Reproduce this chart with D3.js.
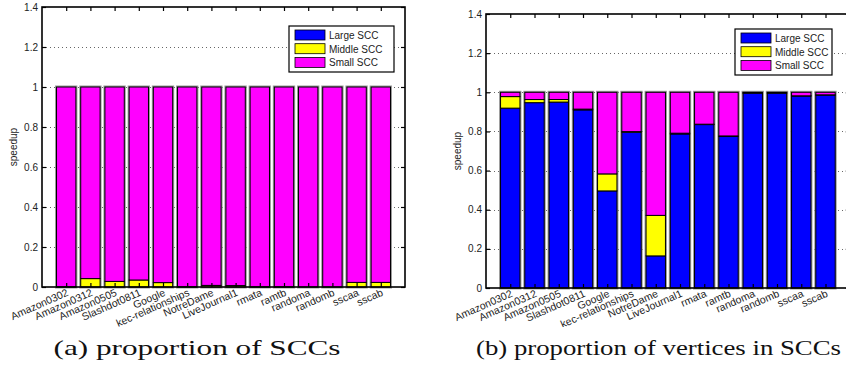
<!DOCTYPE html>
<html>
<head>
<meta charset="utf-8">
<script src="https://cdn.jsdelivr.net/npm/d3@7"></script>
<style>
  body { margin: 0; background: #fff; }
  svg { display: block; }
  text { font-family: "Liberation Sans", Arial, sans-serif; }
</style>
</head>
<body>
<div id="plot"></div>
<script>
// Width and height
const w = 846;
const h = 366;

// data
const datasets = ["Amazon0302", "Amazon0312", "Amazon0505", "Slashdot0811", "Google",
  "kec-relationships", "NotreDame", "LiveJournal1", "rmata", "ramtb", "randoma", "randomb",
  "sscaa", "sscab"];
const seriesNames = ["Large SCC", "Middle SCC", "Small SCC"];
const yTicks = [0, 0.2, 0.4, 0.6, 0.8, 1, 1.2, 1.4];

// (a) proportion of SCCs
const sccLarge  = [0, 0, 0, 0, 0, 0, 0, 0, 0, 0, 0, 0, 0, 0];
const sccMiddle = [0.001, 0.042, 0.028, 0.035, 0.022, 0.001, 0.008, 0.007, 0.001, 0.001, 0, 0, 0.023, 0.023];
const sccSmall  = [0.999, 0.958, 0.972, 0.965, 0.978, 0.999, 0.992, 0.993, 0.999, 0.999, 1, 1, 0.977, 0.977];

// (b) proportion of vertices in SCCs
const vertLarge  = [0.919, 0.947, 0.950, 0.910, 0.496, 0.796, 0.164, 0.787, 0.835, 0.774, 0.996, 0.996, 0.981, 0.986];
const vertMiddle = [0.059, 0.016, 0.013, 0.004, 0.087, 0.003, 0.207, 0.004, 0.002, 0.003, 0.001, 0.001, 0.001, 0.001];
const vertSmall  = [0.022, 0.037, 0.037, 0.086, 0.417, 0.201, 0.629, 0.209, 0.163, 0.223, 0.003, 0.003, 0.018, 0.013];

const colors = ["#0000ff", "#ffff00", "#ff00ff"];

const svg = d3.select("div#plot")
  .append("svg")
    .attr("width", w)
    .attr("height", h);

svg.append("rect")
  .attr("width", w)
  .attr("height", h)
  .attr("fill", "#fff");

// the tick labels are cut just above the captions
svg.append("defs").append("clipPath")
  .attr("id", "labclip")
  .append("rect")
    .attr("x", 0).attr("y", 0)
    .attr("width", w).attr("height", 327);

function drawPanel(panel) {
  const g = svg.append("g");

  const xScale = d3.scaleLinear()
    .domain([0, datasets.length + 1])
    .range([panel.left, panel.right]);
  const yScale = d3.scaleLinear()
    .domain([0, 1.4])
    .range([panel.bottom, panel.top]);
  const step = xScale(1) - xScale(0);
  const bw = step * 0.8;

  // dotted grid
  g.append("g")
    .selectAll("line")
    .data(yTicks.slice(1, -1))
    .enter()
    .append("line")
      .attr("x1", panel.left)
      .attr("x2", Math.min(panel.right, w))
      .attr("y1", d => Math.round(yScale(d)) + 0.5)
      .attr("y2", d => Math.round(yScale(d)) + 0.5)
      .attr("stroke", "#666")
      .attr("stroke-width", 1)
      .attr("stroke-dasharray", "1,3");

  // stacked bars
  const stack = d3.stack().keys([0, 1, 2]).value((d, k) => d[k]);
  const rows = datasets.map((name, i) => [panel.series[0][i], panel.series[1][i], panel.series[2][i]]);
  const layers = stack(rows);

  // grey halo round each bar
  g.append("g")
    .selectAll("rect")
    .data(rows)
    .enter()
    .append("rect")
      .attr("x", (d, i) => xScale(i + 1) - bw / 2)
      .attr("y", d => yScale(d3.sum(d)))
      .attr("width", bw)
      .attr("height", d => yScale(0) - yScale(d3.sum(d)))
      .attr("fill", "none")
      .attr("stroke", "#9a9a9a")
      .attr("stroke-width", 3);

  layers.forEach((layer, k) => {
    g.append("g")
      .selectAll("rect")
      .data(layer)
      .enter()
      .append("rect")
        .attr("x", (d, i) => xScale(i + 1) - bw / 2)
        .attr("y", d => yScale(d[1]))
        .attr("width", bw)
        .attr("height", d => Math.max(0, yScale(d[0]) - yScale(d[1])))
        .attr("fill", colors[k])
        .attr("stroke", "#000")
        .attr("stroke-width", 1);
  });

  // axes box with inward ticks
  const yAxisL = d3.axisRight(yScale).tickValues(yTicks).tickSize(4).tickFormat("");
  const yAxisR = d3.axisLeft(yScale).tickValues(yTicks).tickSize(4).tickFormat("");
  const xAxisT = d3.axisBottom(xScale).tickValues(d3.range(1, datasets.length + 1)).tickSize(4).tickFormat("");
  const xAxisB = d3.axisTop(xScale).tickValues(d3.range(1, datasets.length + 1)).tickSize(4).tickFormat("");

  [[yAxisL, `translate(${panel.left},0)`], [yAxisR, `translate(${panel.right},0)`],
   [xAxisT, `translate(0,${panel.top})`], [xAxisB, `translate(0,${panel.bottom})`]].forEach(a => {
    const ax = g.append("g").attr("transform", a[1]).call(a[0]);
    ax.select(".domain").remove();
    ax.selectAll("line").attr("stroke", "#000").attr("stroke-width", 1.2);
  });

  g.append("rect")
    .attr("x", panel.left)
    .attr("y", panel.top)
    .attr("width", panel.right - panel.left)
    .attr("height", panel.bottom - panel.top)
    .attr("fill", "none")
    .attr("stroke", "#000")
    .attr("stroke-width", 1.6);

  // y tick labels
  g.append("g")
    .selectAll("text")
    .data(yTicks)
    .enter()
    .append("text")
      .attr("x", panel.left - 4)
      .attr("y", d => yScale(d) + 3.5)
      .attr("text-anchor", "end")
      .style("font-size", "10px")
      .attr("fill", "#222")
      .text(d => d);

  // x tick labels, rotated
  g.append("g")
    .attr("clip-path", "url(#labclip)")
    .selectAll("text")
    .data(datasets)
    .enter()
    .append("text")
      .attr("transform", (d, i) => `translate(${xScale(i + 1) + 3}, ${panel.bottom + 8}) rotate(-24)`)
      .attr("text-anchor", "end")
      .style("font-size", "10.5px")
      .attr("fill", "#222")
      .text(d => d);

  // y-axis label
  g.append("text")
    .attr("transform", `translate(${panel.ylabX}, ${(panel.top + panel.bottom) / 2}) rotate(-90)`)
    .attr("text-anchor", "middle")
    .style("font-size", "10px")
    .attr("fill", "#222")
    .text("speedup");

  // legend
  const lg = g.append("g").attr("transform", `translate(${panel.legX}, ${panel.legY})`);
  lg.append("rect")
    .attr("width", panel.legW)
    .attr("height", 46)
    .attr("fill", "#fff")
    .attr("stroke", "#000")
    .attr("stroke-width", 1.2);
  seriesNames.forEach((name, k) => {
    lg.append("rect")
      .attr("x", 6)
      .attr("y", 4 + k * 13.7)
      .attr("width", 30)
      .attr("height", 10)
      .attr("fill", colors[k])
      .attr("stroke", "#000")
      .attr("stroke-width", 0.8);
    lg.append("text")
      .attr("x", 40)
      .attr("y", 13 + k * 13.7)
      .style("font-size", "10px")
      .attr("fill", "#222")
      .text(name);
  });

  // caption
  svg.append("text")
    .attr("x", panel.capX)
    .attr("y", 355)
    .attr("text-anchor", "middle")
    .style("font-family", "'Liberation Serif', 'Times New Roman', serif")
    .style("font-size", "22px")
    .attr("textLength", panel.capW)
    .attr("lengthAdjust", "spacingAndGlyphs")
    .attr("fill", "#111")
    .text(panel.caption);
}

drawPanel({
  left: 42, right: 405, top: 7, bottom: 287,
  series: [sccLarge, sccMiddle, sccSmall],
  ylabX: 17, legX: 289, legY: 26, legW: 105,
  capX: 197, capW: 287, caption: "(a) proportion of SCCs"
});

drawPanel({
  left: 486, right: 849.75, top: 14, bottom: 288,
  series: [vertLarge, vertMiddle, vertSmall],
  ylabX: 461, legX: 735, legY: 29, legW: 97,
  capX: 658.5, capW: 365, caption: "(b) proportion of vertices in SCCs"
});
</script>
</body>
</html>
